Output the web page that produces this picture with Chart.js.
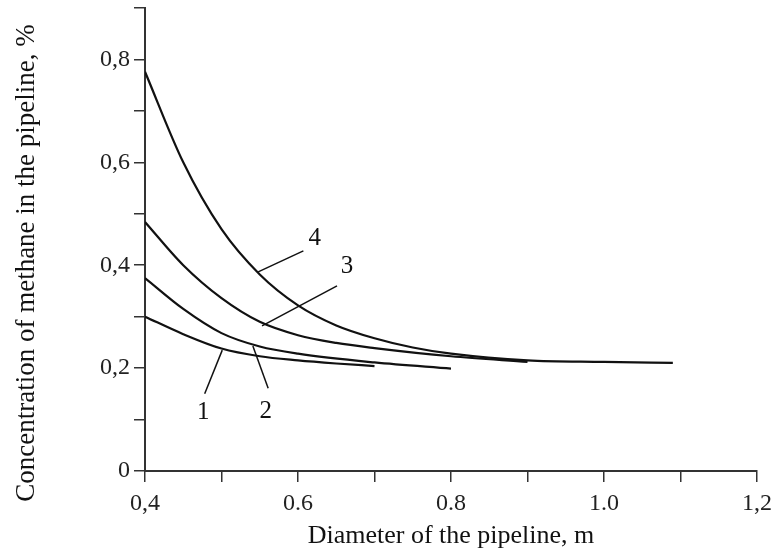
<!DOCTYPE html>
<html>
<head>
<meta charset="utf-8">
<script src="https://cdn.jsdelivr.net/npm/chart.js@4.4.1/dist/chart.umd.min.js"></script>
<style>
  html, body { margin: 0; padding: 0; background: #fff; }
  #wrap { width: 777px; height: 553px; }
</style>
</head>
<body>
<div id="wrap"><canvas id="c" width="777" height="553"></canvas></div>
<script>
// ---- data ----
const curve1X = [0.40, 0.45, 0.50, 0.55, 0.60, 0.65, 0.70];
const curve1Y = [0.300, 0.266, 0.238, 0.223, 0.215, 0.209, 0.204];

const curve2X = [0.40, 0.45, 0.50, 0.55, 0.60, 0.70, 0.80];
const curve2Y = [0.375, 0.315, 0.268, 0.242, 0.228, 0.211, 0.199];

const curve3X = [0.40, 0.45, 0.50, 0.55, 0.60, 0.65, 0.70, 0.80, 0.90];
const curve3Y = [0.484, 0.400, 0.336, 0.290, 0.264, 0.249, 0.239, 0.223, 0.212];

const curve4X = [0.40, 0.45, 0.50, 0.55, 0.60, 0.65, 0.70, 0.75, 0.80, 0.90, 1.00, 1.09];
const curve4Y = [0.776, 0.600, 0.470, 0.382, 0.322, 0.283, 0.258, 0.240, 0.228, 0.215, 0.212, 0.210];

const xTickValues = [0.4, 0.6, 0.8, 1.0, 1.2];
const xTickText   = ['0,4', '0.6', '0.8', '1.0', '1,2'];
const yTickValues = [0, 0.2, 0.4, 0.6, 0.8];
const yTickText   = ['0', '0,2', '0,4', '0,6', '0,8'];

const xTitle = 'Diameter of the pipeline, m';
const yTitle = 'Concentration of methane in the pipeline, %';

// curve number labels (data units): text position, leader line from curve to label
const curveLabels   = ['1', '2', '3', '4'];
const labelPosX     = [0.476, 0.558, 0.664, 0.622];
const labelPosY     = [0.113, 0.115, 0.397, 0.453];
const leaderStartX  = [0.501, 0.541, 0.553, 0.548];
const leaderStartY  = [0.235, 0.243, 0.282, 0.387];
const leaderEndX    = [0.478, 0.561, 0.651, 0.607];
const leaderEndY    = [0.150, 0.161, 0.360, 0.428];

// ---- build ----
const FONT = '"Liberation Serif", "Times New Roman", serif';
function pts(xs, ys) { return xs.map((x, i) => ({ x: x, y: ys[i] })); }
function lookup(vals, texts, v) {
  for (let i = 0; i < vals.length; i++) if (Math.abs(vals[i] - v) < 1e-6) return texts[i];
  return '';
}

const curveStyle = {
  showLine: true, pointRadius: 0, pointHoverRadius: 0,
  borderColor: '#111', borderWidth: 2.2, fill: false,
  cubicInterpolationMode: 'monotone'
};

const annotPlugin = {
  id: 'annot',
  afterDatasetsDraw(chart) {
    const ctx = chart.ctx, xs = chart.scales.x, ys = chart.scales.y;
    ctx.save();
    ctx.strokeStyle = '#111';
    ctx.lineWidth = 1.5;
    for (let i = 0; i < curveLabels.length; i++) {
      ctx.beginPath();
      ctx.moveTo(xs.getPixelForValue(leaderStartX[i]), ys.getPixelForValue(leaderStartY[i]));
      ctx.lineTo(xs.getPixelForValue(leaderEndX[i]), ys.getPixelForValue(leaderEndY[i]));
      ctx.stroke();
    }
    ctx.fillStyle = '#111';
    ctx.font = '25px ' + FONT;
    ctx.textAlign = 'center';
    ctx.textBaseline = 'middle';
    for (let i = 0; i < curveLabels.length; i++) {
      ctx.fillText(curveLabels[i], xs.getPixelForValue(labelPosX[i]), ys.getPixelForValue(labelPosY[i]));
    }
    // y axis title
    ctx.font = '27px ' + FONT;
    ctx.save();
    ctx.translate(27, 263);
    ctx.rotate(-Math.PI / 2);
    ctx.fillText(yTitle, 0, 0);
    ctx.restore();
    ctx.restore();
  }
};

new Chart(document.getElementById('c'), {
  type: 'scatter',
  data: {
    datasets: [
      Object.assign({ label: '1', data: pts(curve1X, curve1Y) }, curveStyle),
      Object.assign({ label: '2', data: pts(curve2X, curve2Y) }, curveStyle),
      Object.assign({ label: '3', data: pts(curve3X, curve3Y) }, curveStyle),
      Object.assign({ label: '4', data: pts(curve4X, curve4Y) }, curveStyle)
    ]
  },
  options: {
    responsive: false,
    animation: false,
    devicePixelRatio: 1,
    layout: { padding: { top: 8, right: 20, left: 0, bottom: 0 } },
    plugins: { legend: { display: false }, tooltip: { enabled: false } },
    scales: {
      x: {
        type: 'linear', min: 0.4, max: 1.2,
        afterFit(s) { s.height = 82; s.paddingLeft = 0; s.paddingRight = 0; },
        grid: { drawOnChartArea: false, drawTicks: true, tickLength: 11, color: '#333', lineWidth: 1.5 },
        border: { display: true, color: '#333', width: 2 },
        ticks: {
          stepSize: 0.1, autoSkip: false, maxRotation: 0, padding: 7,
          color: '#222', font: { family: FONT, size: 24 },
          callback: v => lookup(xTickValues, xTickText, v)
        },
        title: { display: true, text: xTitle, color: '#111', font: { family: FONT, size: 26 }, padding: { top: 0, bottom: 1 } }
      },
      y: {
        type: 'linear', min: 0, max: 0.9,
        afterFit(s) { s.width = 145; s.paddingTop = 0; s.paddingBottom = 0; },
        grid: { drawOnChartArea: false, drawTicks: true, tickLength: 11, color: '#333', lineWidth: 1.5 },
        border: { display: true, color: '#333', width: 2 },
        ticks: {
          stepSize: 0.1, autoSkip: false, padding: 4,
          color: '#222', font: { family: FONT, size: 24 },
          callback: v => lookup(yTickValues, yTickText, v)
        }
      }
    }
  },
  plugins: [annotPlugin]
});
</script>
</body>
</html>
